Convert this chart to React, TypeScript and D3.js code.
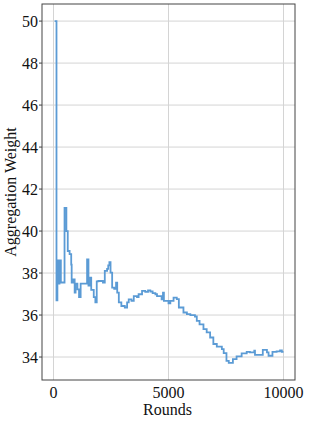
import React from "react";
import * as d3 from "d3";

const rounds = [
  50, 130, 170, 230, 260, 320, 480, 560, 620, 700, 770, 790, 860, 920, 960,
  1040, 1110, 1180, 1460, 1520, 1600, 1640, 1750, 1820, 1880, 1950, 2150, 2230,
  2330, 2380, 2430, 2480, 2550, 2640, 2720, 2770, 2840, 2950, 3100, 3200, 3270,
  3390, 3490, 3630, 3700, 3850, 3990, 4110, 4210, 4310, 4430, 4500, 4700, 4760,
  4800, 5000, 5080, 5220, 5360, 5450, 5650, 5800, 5950, 6150, 6230, 6350, 6520,
  6660, 6810, 6950, 7100, 7320, 7400, 7520, 7620, 7800, 7960, 8180, 8400, 8540,
  8730, 8760, 9100, 9280, 9350, 9520, 9700, 9850, 9930, 10000,
];
const weights = [
  50.0, 36.7, 38.6, 37.5, 38.6, 37.55, 41.1, 40.0, 39.05, 38.9, 38.4, 37.55,
  37.7, 37.07, 37.5, 37.22, 36.85, 37.5, 38.65, 37.4, 37.78, 37.2, 36.85, 36.6,
  37.6, 37.62, 37.55, 38.1, 38.2, 38.37, 38.52, 38.02, 37.31, 37.25, 37.54,
  37.07, 36.6, 36.43, 36.36, 36.6, 36.75, 36.68, 36.9, 36.85, 36.99, 37.15,
  37.1, 37.17, 37.12, 37.04, 36.99, 36.9, 36.75, 37.07, 36.67, 36.56, 36.67,
  36.83, 36.76, 36.36, 36.12, 36.04, 36.0, 35.93, 35.72, 35.56, 35.33, 35.17,
  34.93, 34.62, 34.5, 34.38, 34.19, 33.82, 33.72, 33.9, 34.03, 34.17, 34.25,
  34.22, 34.3, 34.1, 34.34, 34.22, 34.06, 34.25, 34.27, 34.32, 34.25, 34.25,
];
const xTicks = [0, 5000, 10000];
const yTicks = [34, 36, 38, 40, 42, 44, 46, 48, 50];

const width = 309;
const height = 422;
const margin = { left: 42, right: 14, top: 4, bottom: 42 };
const font = "'Liberation Serif', 'Times New Roman', serif";

const App = () => {
  const data = rounds.map((r, i) => ({ r, w: weights[i] }));

  // matplotlib style 5% padding on both axes
  const xMin = 0;
  const xMax = d3.max(rounds) as number;
  const xPad = (xMax - xMin) * 0.05;
  const yMin = d3.min(weights) as number;
  const yMax = d3.max(weights) as number;
  const yPad = (yMax - yMin) * 0.05;

  const x = d3
    .scaleLinear()
    .domain([xMin - xPad, xMax + xPad])
    .range([margin.left, width - margin.right]);
  const y = d3
    .scaleLinear()
    .domain([yMin - yPad, yMax + yPad])
    .range([height - margin.bottom, margin.top]);

  const line = d3
    .line<{ r: number; w: number }>()
    .x((d) => x(d.r))
    .y((d) => y(d.w))
    .curve(d3.curveStepAfter);

  const x0 = margin.left;
  const x1 = width - margin.right;
  const y0 = height - margin.bottom;
  const y1 = margin.top;

  return (
    <div style={{ position: "fixed", left: 0, top: 0 }}>
      <svg width={width} height={height} style={{ display: "block", background: "#fff" }}>
        {/* grid */}
        {yTicks.map((t) => (
          <line key={"gy" + t} x1={x0} x2={x1} y1={y(t)} y2={y(t)} stroke="#d4d4d4" strokeWidth={1} />
        ))}
        {xTicks.map((t) => (
          <line key={"gx" + t} x1={x(t)} x2={x(t)} y1={y0} y2={y1} stroke="#d4d4d4" strokeWidth={1} />
        ))}

        <path d={line(data) || ""} fill="none" stroke="#5b9bd5" strokeWidth={1.8} strokeLinejoin="miter" />

        {/* frame */}
        <rect x={x0} y={y1} width={x1 - x0} height={y0 - y1} fill="none" stroke="#444" strokeWidth={1} />

        {/* y ticks */}
        {yTicks.map((t) => (
          <g key={"ty" + t}>
            <line x1={x0 - 3} x2={x0} y1={y(t)} y2={y(t)} stroke="#444" strokeWidth={1} />
            <text x={x0 - 4} y={y(t)} dy="0.35em" textAnchor="end" fontFamily={font} fontSize={16} fill="#111">
              {t}
            </text>
          </g>
        ))}
        {xTicks.map((t) => (
          <text key={"tx" + t} x={x(t)} y={398} textAnchor="middle" fontFamily={font} fontSize={16} fill="#111">
            {t}
          </text>
        ))}

        <text x={(x0 + x1) / 2 - 1} y={415} textAnchor="middle" fontFamily={font} fontSize={16} fill="#111">
          Rounds
        </text>
        <text
          transform={`translate(16,${(y0 + y1) / 2}) rotate(-90)`}
          textAnchor="middle"
          fontFamily={font}
          fontSize={16}
          fill="#111"
        >
          Aggregation Weight
        </text>
      </svg>
    </div>
  );
};

export default App;
